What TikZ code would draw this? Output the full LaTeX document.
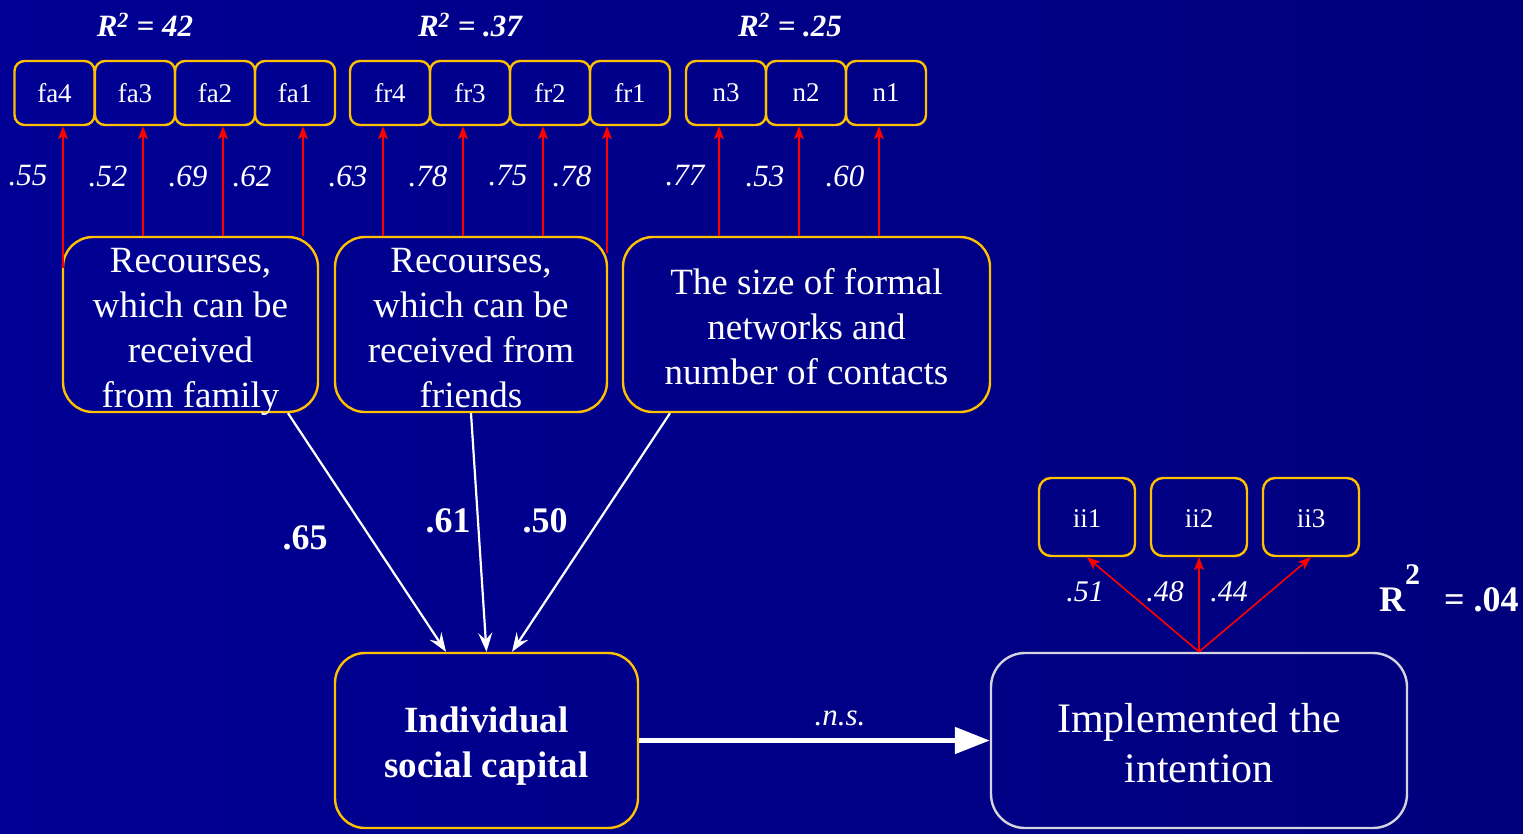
\documentclass[tikz,border=0pt]{standalone}
\usepackage{fontspec}
\setmainfont{Liberation Serif}
\usetikzlibrary{arrows.meta}
\definecolor{bgL}{RGB}{0,0,148}
\definecolor{bgR}{RGB}{0,0,124}
\definecolor{gold}{RGB}{255,192,0}
\definecolor{pale}{RGB}{212,212,222}
\newcommand{\fs}[2]{\fontsize{#1}{#2}\selectfont}
\begin{document}
\begin{tikzpicture}[x=1pt,y=-1pt,
  ind/.style={draw=gold, line width=2.4pt, rounded corners=10pt,
    minimum width=80pt, minimum height=64pt, inner sep=0pt,
    text=white, font=\fs{27}{30}},
  iibox/.style={ind, minimum width=96pt, minimum height=78pt, rounded corners=12pt},
  latent/.style={draw=gold, line width=2.4pt, rounded corners=30pt,
    minimum height=175pt, inner sep=0pt},
  lattext/.style={text=white, align=center, inner sep=0pt, font=\fs{37}{45}},
  load/.style={text=white, inner sep=0pt, font=\fs{31}{36}\itshape},
  path/.style={text=white, inner sep=0pt, font=\fs{36}{40}\bfseries},
  rsq/.style={text=white, inner sep=0pt, font=\fs{31}{36}\bfseries\itshape},
  redarrow/.style={draw=red, line width=1.6pt, -{Stealth[length=13pt,width=10pt,inset=3pt]}},
  whitearrow/.style={draw=white, line width=2.2pt, -{Stealth[length=19pt,width=14pt,inset=7pt]}},
  bigarrow/.style={draw=white, line width=5pt, -{Triangle[length=35pt,width=26pt]}}
]
% background
\shade[left color=bgL, right color=bgR] (0,0) rectangle (1523,833);
\useasboundingbox (0,0) rectangle (1523,833);

% R-squared of the three first-order factors
\node[rsq] (rfa) at (145,25) {R\textsuperscript{2} = 42};
\node[rsq] (rfr) at (470,25) {R\textsuperscript{2} = .37};
\node[rsq] (rn)  at (790,25) {R\textsuperscript{2} = .25};

% indicator boxes
\node[ind] (fa4) at (54.5,93) {fa4};
\node[ind] (fa3) at (135,93) {fa3};
\node[ind] (fa2) at (215,93) {fa2};
\node[ind] (fa1) at (295,93) {fa1};
\node[ind] (fr4) at (390,93) {fr4};
\node[ind] (fr3) at (470,93) {fr3};
\node[ind] (fr2) at (550,93) {fr2};
\node[ind] (fr1) at (630,93) {fr1};
\node[ind] (n3) at (726,93) {n3};
\node[ind] (n2) at (806,93) {n2};
\node[ind] (n1) at (886,93) {n1};

% latent factors
\node[latent, minimum width=255pt] (fam) at (190.5,324.5) {};
\node[lattext] (famtext) at (190.5,332) {Recourses,\\which can be\\received\\from family};
\node[latent, minimum width=272pt] (fri) at (471,324.5) {};
\node[lattext] (fritext) at (471,328) {Recourses,\\which can be\\received from\\friends};
\node[latent, minimum width=367pt] (form) at (806.5,324.5) {};
\node[lattext] (formtext) at (806.5,327) {The size of formal\\networks and\\number of contacts};

\node[latent, minimum width=303pt] (isc) at (486.5,740.5) {};
\node[lattext, font=\fs{37}{45}\bfseries] (isctext) at (486.5,746) {Individual\\social capital};

\node[latent, draw=pale, minimum width=416pt, rounded corners=34pt] (impl) at (1199,740.5) {};
\node[lattext, font=\fs{42}{50}] (impltext) at (1199,743) {Implemented the\\intention};

% outcome indicators
\node[iibox] (ii1) at (1087,517) {};
\node[iibox] (ii2) at (1199,517) {};
\node[iibox] (ii3) at (1311,517) {};
\node[text=white, font=\fs{27}{30}, inner sep=0pt] (ii1t) at (1087,519) {ii1};
\node[text=white, font=\fs{27}{30}, inner sep=0pt] (ii2t) at (1199,519) {ii2};
\node[text=white, font=\fs{27}{30}, inner sep=0pt] (ii3t) at (1311,519) {ii3};

% loadings: family
\draw[redarrow] (63,268) -- (63,0 |- fa4.south);
\draw[redarrow] (143,0 |- fam.north) -- (143,0 |- fa3.south);
\draw[redarrow] (223,0 |- fam.north) -- (223,0 |- fa2.south);
\draw[redarrow] (303,0 |- fam.north) -- (303,0 |- fa1.south);
% loadings: friends
\draw[redarrow] (383,0 |- fri.north) -- (383,0 |- fr4.south);
\draw[redarrow] (463,0 |- fri.north) -- (463,0 |- fr3.south);
\draw[redarrow] (543,0 |- fri.north) -- (543,0 |- fr2.south);
\draw[redarrow] (607,253) -- (607,0 |- fr1.south);
% loadings: formal networks
\draw[redarrow] (719,0 |- form.north) -- (719,0 |- n3.south);
\draw[redarrow] (799,0 |- form.north) -- (799,0 |- n2.south);
\draw[redarrow] (879,0 |- form.north) -- (879,0 |- n1.south);

\node[load] (l1) at (28,176) {.55};
\node[load] (l2) at (108,176) {.52};
\node[load] (l3) at (188,176) {.69};
\node[load] (l4) at (252,176) {.62};
\node[load] (l5) at (348,176) {.63};
\node[load] (l6) at (428,176) {.78};
\node[load] (l7) at (508,176) {.75};
\node[load] (l8) at (572,176) {.78};
\node[load] (l9) at (685,176) {.77};
\node[load] (l10) at (765,176) {.53};
\node[load] (l11) at (845,176) {.60};

% second-order paths
\draw[whitearrow] ([xshift=97.5pt]fam.south) -- ([xshift=-40.5pt]isc.north);
\draw[whitearrow] (fri.south) -- (isc.north);
\draw[whitearrow] ([xshift=-136.5pt]form.south) -- ([xshift=25.5pt]isc.north);
\node[path] (p1) at (305,538) {.65};
\node[path] (p2) at (448,521) {.61};
\node[path] (p3) at (545,521) {.50};

% structural path
\draw[bigarrow] (isc.east) -- (impl.west);
\node[load] (ns) at (840,718) {.n.s.};

% outcome loadings
\draw[redarrow] (impl.north) -- (ii1.south);
\draw[redarrow] (impl.north) -- (ii2.south);
\draw[redarrow] (impl.north) -- (ii3.south);
\node[load, font=\fs{30}{34}\itshape] (m1) at (1085,592) {.51};
\node[load, font=\fs{30}{34}\itshape] (m2) at (1165,592) {.48};
\node[load, font=\fs{30}{34}\itshape] (m3) at (1229,592) {.44};

\node[path, anchor=base west] (rimpl) at (1379,611)
  {R\raisebox{27pt}{\fs{30}{30}2}\hspace{24pt}= .04};
\end{tikzpicture}
\end{document}
